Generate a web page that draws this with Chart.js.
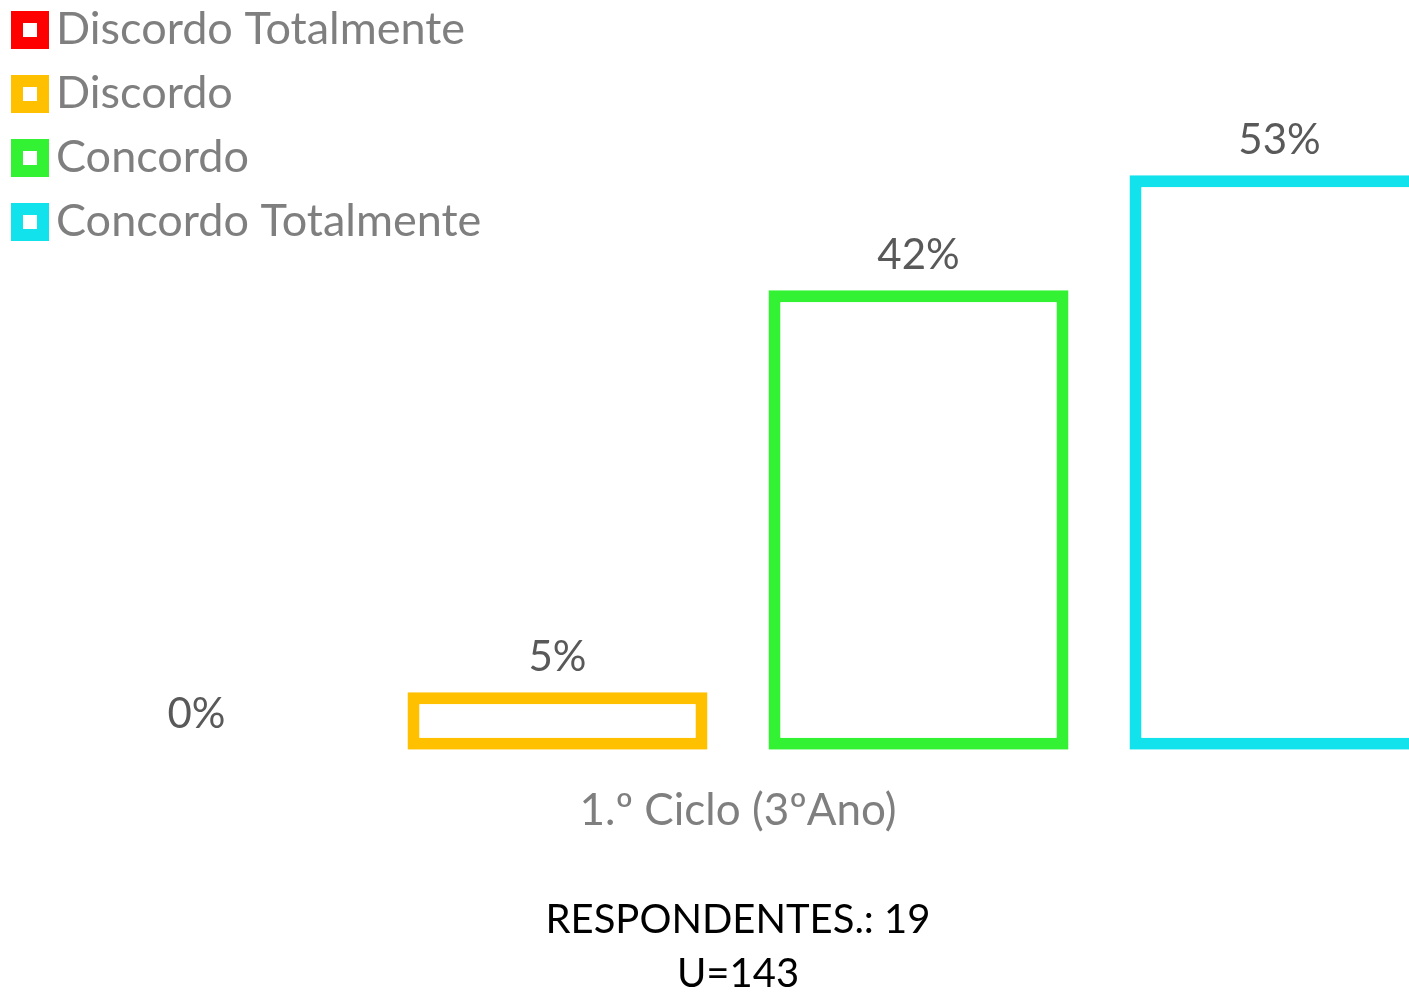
<!DOCTYPE html>
<html>
<head>
<meta charset="utf-8">
<script src="https://cdn.jsdelivr.net/npm/chart.js@4"></script>
<style>
  html, body { margin: 0; padding: 0; background: #ffffff; overflow: hidden; }
  #wrap { position: absolute; left: 0; top: 0; width: 1480px; height: 995px; }
</style>
</head>
<body>
<div id="wrap"><canvas id="c"></canvas></div>
<script>
const categories = ['1.º Ciclo (3ºAno)'];
const seriesNames = ['Discordo Totalmente', 'Discordo', 'Concordo', 'Concordo Totalmente'];
const discordoTotalmente = [0];
const discordo = [5.26];
const concordo = [42.11];
const concordoTotalmente = [52.63];
const seriesColors = ['#FF0000', '#FFC000', '#33F233', '#12E2EC'];
const titleLines = ['RESPONDENTES.: 19', 'U=143'];

const FONT = 'Lato, "Open Sans", sans-serif';
const allSeries = [discordoTotalmente, discordo, concordo, concordoTotalmente];

const valueLabelPlugin = {
  id: 'valueLabels',
  afterDatasetsDraw(chart) {
    const ctx = chart.ctx;
    ctx.save();
    ctx.font = '42px ' + FONT;
    ctx.fillStyle = '#595959';
    ctx.textAlign = 'center';
    ctx.textBaseline = 'middle';
    chart.data.datasets.forEach((ds, i) => {
      const meta = chart.getDatasetMeta(i);
      meta.data.forEach((el, j) => {
        const v = ds.data[j];
        ctx.fillText(Math.round(v) + '%', el.x, el.y - 35);
      });
    });
    ctx.restore();
  }
};

const legendPlugin = {
  id: 'squareLegend',
  afterDraw(chart) {
    const ctx = chart.ctx;
    ctx.save();
    ctx.font = '45px ' + FONT;
    ctx.textAlign = 'left';
    ctx.textBaseline = 'alphabetic';
    chart.data.datasets.forEach((ds, i) => {
      const top = 11 + 64 * i;
      ctx.fillStyle = ds.borderColor;
      ctx.fillRect(11, top, 38, 38);
      ctx.fillStyle = '#ffffff';
      ctx.fillRect(23, top + 12, 14, 14);
      ctx.fillStyle = '#7f7f7f';
      ctx.fillText(ds.label, 56, top + 33);
    });
    ctx.restore();
  }
};

new Chart(document.getElementById('c'), {
  type: 'bar',
  data: {
    labels: categories,
    datasets: seriesNames.map((name, i) => ({
      label: name,
      data: allSeries[i],
      backgroundColor: '#ffffff',
      borderColor: seriesColors[i],
      borderWidth: 12,
      borderSkipped: false,
      categoryPercentage: 1.0,
      barPercentage: 0.831
    }))
  },
  options: {
    responsive: true,
    maintainAspectRatio: false,
    animation: false,
    layout: { padding: { left: 16, right: 20, top: 0, bottom: -6 } },
    scales: {
      x: {
        grid: { display: false },
        border: { display: false },
        ticks: { color: '#7f7f7f', font: { family: FONT, size: 44 }, padding: 27 }
      },
      y: {
        display: false,
        min: 0,
        max: 68.7
      }
    },
    plugins: {
      legend: { display: false },
      title: {
        display: true,
        position: 'bottom',
        text: titleLines,
        color: '#000000',
        font: { family: FONT, size: 40, weight: 'normal', lineHeight: 1.35 },
        padding: { top: 28.5, bottom: 0 }
      },
      tooltip: { enabled: false }
    }
  },
  plugins: [valueLabelPlugin, legendPlugin]
});
</script>
</body>
</html>
